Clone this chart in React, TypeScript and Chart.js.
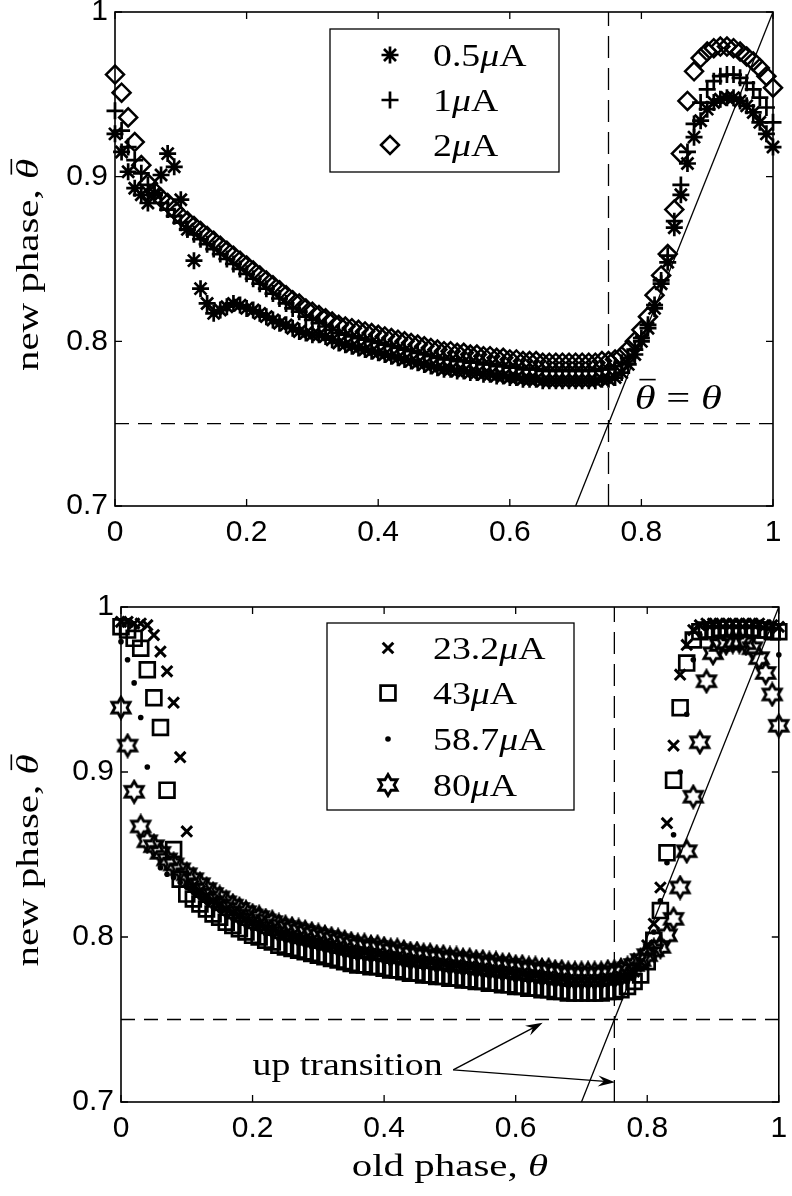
import React, { useEffect, useRef } from 'react';
import { Chart, registerables } from 'chart.js';
import { drawPoint } from 'chart.js/helpers';

Chart.register(...registerables);

// ---------------- data ----------------
const thetaGrid = [
  0.00, 0.01, 0.02, 0.03, 0.04, 0.05, 0.06, 0.07, 0.08, 0.09,
  0.10, 0.11, 0.12, 0.13, 0.14, 0.15, 0.16, 0.17, 0.18, 0.19,
  0.20, 0.21, 0.22, 0.23, 0.24, 0.25, 0.26, 0.27, 0.28, 0.29,
  0.30, 0.31, 0.32, 0.33, 0.34, 0.35, 0.36, 0.37, 0.38, 0.39,
  0.40, 0.41, 0.42, 0.43, 0.44, 0.45, 0.46, 0.47, 0.48, 0.49,
  0.50, 0.51, 0.52, 0.53, 0.54, 0.55, 0.56, 0.57, 0.58, 0.59,
  0.60, 0.61, 0.62, 0.63, 0.64, 0.65, 0.66, 0.67, 0.68, 0.69,
  0.70, 0.71, 0.72, 0.73, 0.74, 0.75, 0.76, 0.77, 0.78, 0.79,
  0.80, 0.81, 0.82, 0.83, 0.84, 0.85, 0.86, 0.87, 0.88, 0.89,
  0.90, 0.91, 0.92, 0.93, 0.94, 0.95, 0.96, 0.97, 0.98, 0.99,
  1.00,
];

// top panel: 0.5 uA (*), 1 uA (+), 2 uA (diamond)
const top05uA = [
  0.926, 0.915, 0.903, 0.893, 0.889, 0.884, 0.890, 0.901, 0.914, 0.906,
  0.886, 0.868, 0.849, 0.832, 0.823, 0.817, 0.819, 0.821, 0.823, 0.822,
  0.820, 0.819, 0.817, 0.815, 0.813, 0.811, 0.810, 0.808, 0.806, 0.805,
  0.804, 0.804, 0.803, 0.801, 0.799, 0.798, 0.797, 0.796, 0.795, 0.794,
  0.793, 0.792, 0.791, 0.790, 0.789, 0.788, 0.787, 0.786, 0.785, 0.784,
  0.783, 0.783, 0.782, 0.782, 0.781, 0.781, 0.780, 0.780, 0.779, 0.779,
  0.778, 0.778, 0.777, 0.777, 0.777, 0.776, 0.776, 0.776, 0.776, 0.776,
  0.776, 0.776, 0.776, 0.776, 0.777, 0.777, 0.778, 0.781, 0.786, 0.792,
  0.800, 0.808, 0.820, 0.835, 0.848, 0.869, 0.889, 0.908, 0.924, 0.934,
  0.941, 0.945, 0.947, 0.948, 0.948, 0.946, 0.943, 0.939, 0.933, 0.926,
  0.918,
];
const top1uA = [
  0.940, 0.928, 0.918, 0.910, 0.902, 0.895, 0.889, 0.884, 0.880, 0.876,
  0.872, 0.868, 0.865, 0.862, 0.859, 0.856, 0.853, 0.850, 0.847, 0.844,
  0.841, 0.838, 0.835, 0.832, 0.829, 0.826, 0.823, 0.820, 0.818, 0.815,
  0.813, 0.811, 0.809, 0.807, 0.805, 0.804, 0.803, 0.802, 0.801, 0.800,
  0.799, 0.798, 0.797, 0.796, 0.795, 0.794, 0.793, 0.792, 0.791, 0.790,
  0.789, 0.789, 0.788, 0.788, 0.787, 0.787, 0.786, 0.786, 0.785, 0.785,
  0.784, 0.784, 0.783, 0.783, 0.783, 0.782, 0.782, 0.782, 0.782, 0.782,
  0.782, 0.782, 0.782, 0.782, 0.783, 0.783, 0.785, 0.787, 0.790, 0.795,
  0.802, 0.810, 0.822, 0.837, 0.852, 0.873, 0.895, 0.915, 0.932, 0.945,
  0.953, 0.958, 0.961, 0.962, 0.962, 0.960, 0.957, 0.953, 0.948, 0.942,
  0.933,
];
const top2uA = [
  0.962, 0.951, 0.936, 0.921, 0.907, 0.896, 0.891, 0.887, 0.884, 0.880,
  0.876, 0.873, 0.870, 0.867, 0.864, 0.861, 0.858, 0.855, 0.852, 0.849,
  0.846, 0.843, 0.840, 0.837, 0.834, 0.831, 0.828, 0.825, 0.823, 0.820,
  0.818, 0.816, 0.814, 0.812, 0.810, 0.809, 0.808, 0.807, 0.806, 0.805,
  0.804, 0.803, 0.802, 0.801, 0.800, 0.799, 0.798, 0.797, 0.796, 0.795,
  0.794, 0.794, 0.793, 0.793, 0.792, 0.792, 0.791, 0.791, 0.790, 0.790,
  0.789, 0.789, 0.788, 0.788, 0.788, 0.787, 0.787, 0.787, 0.787, 0.787,
  0.787, 0.787, 0.787, 0.787, 0.788, 0.788, 0.789, 0.791, 0.795, 0.800,
  0.807, 0.815, 0.828, 0.840, 0.853, 0.880, 0.914, 0.946, 0.964, 0.972,
  0.976, 0.978, 0.979, 0.979, 0.978, 0.976, 0.973, 0.970, 0.966, 0.961,
  0.954,
];

// bottom panel: 23.2 uA (x), 43 uA (square), 58.7 uA (dot), 80 uA (hexagram)
const bot232uA = [
  0.991, 0.991, 0.990, 0.990, 0.989, 0.983, 0.973, 0.961, 0.942, 0.909,
  0.864, 0.831, 0.828, 0.825, 0.822, 0.820, 0.817, 0.815, 0.813, 0.811,
  0.809, 0.808, 0.806, 0.805, 0.803, 0.802, 0.801, 0.800, 0.799, 0.798,
  0.797, 0.796, 0.795, 0.794, 0.793, 0.792, 0.791, 0.791, 0.790, 0.790,
  0.789, 0.788, 0.788, 0.787, 0.786, 0.786, 0.785, 0.785, 0.784, 0.784,
  0.783, 0.783, 0.782, 0.782, 0.781, 0.781, 0.780, 0.780, 0.779, 0.779,
  0.778, 0.778, 0.777, 0.777, 0.776, 0.776, 0.775, 0.775, 0.774, 0.774,
  0.774, 0.774, 0.774, 0.774, 0.775, 0.775, 0.776, 0.777, 0.779, 0.785,
  0.795, 0.808, 0.830, 0.869, 0.916, 0.959, 0.977, 0.986, 0.989, 0.990,
  0.990, 0.990, 0.990, 0.990, 0.990, 0.990, 0.990, 0.990, 0.989, 0.989,
  0.988,
];
const bot43uA = [
  0.988, 0.986, 0.981, 0.975, 0.962, 0.945, 0.927, 0.889, 0.853, 0.835,
  0.826, 0.823, 0.820, 0.817, 0.814, 0.812, 0.809, 0.807, 0.805, 0.803,
  0.801, 0.800, 0.798, 0.797, 0.795, 0.794, 0.793, 0.792, 0.791, 0.790,
  0.789, 0.788, 0.787, 0.786, 0.785, 0.784, 0.783, 0.783, 0.782, 0.782,
  0.781, 0.780, 0.780, 0.779, 0.778, 0.778, 0.777, 0.777, 0.776, 0.776,
  0.775, 0.775, 0.774, 0.774, 0.773, 0.773, 0.772, 0.772, 0.771, 0.771,
  0.770, 0.770, 0.769, 0.769, 0.768, 0.768, 0.767, 0.767, 0.766, 0.766,
  0.766, 0.766, 0.766, 0.766, 0.767, 0.767, 0.768, 0.770, 0.773, 0.777,
  0.785, 0.798, 0.816, 0.851, 0.895, 0.939, 0.966, 0.980, 0.985, 0.986,
  0.986, 0.987, 0.987, 0.987, 0.987, 0.987, 0.987, 0.986, 0.986, 0.985,
  0.985,
];
const bot587uA = [
  0.979, 0.968, 0.954, 0.933, 0.903, null, 0.842, 0.838, 0.836, 0.833,
  0.830, 0.827, 0.824, 0.821, 0.818, 0.816, 0.813, 0.811, 0.809, 0.807,
  0.805, 0.804, 0.802, 0.801, 0.799, 0.798, 0.797, 0.796, 0.795, 0.794,
  0.793, 0.792, 0.791, 0.790, 0.789, 0.788, 0.787, 0.787, 0.786, 0.786,
  0.785, 0.784, 0.784, 0.783, 0.782, 0.782, 0.781, 0.781, 0.780, 0.780,
  0.779, 0.779, 0.778, 0.778, 0.777, 0.777, 0.776, 0.776, 0.775, 0.775,
  0.774, 0.774, 0.773, 0.773, 0.772, 0.772, 0.771, 0.771, 0.770, 0.770,
  0.770, 0.770, 0.770, 0.770, 0.771, 0.771, 0.772, 0.773, 0.776, 0.781,
  0.790, 0.803, 0.822, 0.845, 0.862, 0.900, 0.935, 0.968, 0.983, 0.987,
  0.988, 0.988, 0.988, 0.988, 0.988, 0.988, 0.988, 0.988, 0.987, 0.985,
  0.971,
];
const bot80uA = [
  0.939, 0.916, 0.888, 0.867, 0.858, 0.855, 0.851, 0.847, 0.844, 0.841,
  0.838, 0.835, 0.832, 0.829, 0.826, 0.824, 0.821, 0.819, 0.817, 0.815,
  0.813, 0.812, 0.810, 0.809, 0.807, 0.806, 0.805, 0.804, 0.803, 0.802,
  0.801, 0.800, 0.799, 0.798, 0.797, 0.796, 0.795, 0.795, 0.794, 0.794,
  0.793, 0.792, 0.792, 0.791, 0.790, 0.790, 0.789, 0.789, 0.788, 0.788,
  0.787, 0.787, 0.786, 0.786, 0.785, 0.785, 0.784, 0.784, 0.783, 0.783,
  0.782, 0.782, 0.781, 0.781, 0.780, 0.780, 0.779, 0.779, 0.778, 0.778,
  0.778, 0.778, 0.778, 0.778, 0.779, 0.779, 0.780, 0.781, 0.783, 0.786,
  0.789, 0.792, 0.794, 0.801, 0.811, 0.830, 0.852, 0.885, 0.918, 0.955,
  0.972, 0.977, 0.978, 0.979, 0.979, 0.978, 0.975, 0.969, 0.960, 0.947,
  0.928,
];

const xTicks = [0, 0.2, 0.4, 0.6, 0.8, 1];
const yTicks = [0.7, 0.8, 0.9, 1];
const xRange = [0, 1];
const yRange = [0.7, 1];
const criticalPhase = 0.75; // dashed reference lines
const identityLine = [0.7, 1]; // theta_bar = theta

const topLabels = ['0.5', '1', '2'];
const bottomLabels = ['23.2', '43', '58.7', '80'];

// ---------------- styling helpers ----------------
const SANS = '"Liberation Sans", Arial, Helvetica, sans-serif';
const SERIF = '"Liberation Serif", "Times New Roman", serif';
const TXT_SIZE = 31;
const TXT_SX = 1.22;

type Seg = { t: string; it?: boolean; over?: boolean };

function drawRich(ctx: CanvasRenderingContext2D, segs: Seg[], x: number, y: number, align: 'left' | 'center', size = TXT_SIZE, sx = TXT_SX) {
  ctx.save();
  ctx.translate(x, y);
  ctx.scale(sx, 1);
  ctx.fillStyle = '#000';
  ctx.strokeStyle = '#000';
  ctx.textBaseline = 'alphabetic';
  ctx.textAlign = 'left';
  const fontOf = (s: Seg) => `${s.it ? 'italic ' : ''}${size}px ${SERIF}`;
  const widths = segs.map((s) => {
    ctx.font = fontOf(s);
    return ctx.measureText(s.t).width;
  });
  const total = widths.reduce((a, b) => a + b, 0);
  let cx = align === 'center' ? -total / 2 : 0;
  segs.forEach((s, i) => {
    ctx.font = fontOf(s);
    ctx.fillText(s.t, cx, 0);
    if (s.over) {
      ctx.lineWidth = 1.6;
      ctx.beginPath();
      ctx.moveTo(cx + widths[i] * 0.22, -size * 0.86);
      ctx.lineTo(cx + widths[i] * 1.0, -size * 0.86);
      ctx.stroke();
    }
    cx += widths[i];
  });
  ctx.restore();
  return total * sx;
}

function drawArrow(ctx: CanvasRenderingContext2D, x1: number, y1: number, x2: number, y2: number) {
  const ang = Math.atan2(y2 - y1, x2 - x1);
  const L = 17;
  const W = 5.5;
  const dx = Math.cos(ang);
  const dy = Math.sin(ang);
  ctx.save();
  ctx.strokeStyle = '#000';
  ctx.fillStyle = '#000';
  ctx.lineWidth = 1.4;
  ctx.beginPath();
  ctx.moveTo(x1, y1);
  ctx.lineTo(x2 - dx * L * 0.6, y2 - dy * L * 0.6);
  ctx.stroke();
  ctx.beginPath();
  ctx.moveTo(x2, y2);
  ctx.lineTo(x2 - dx * L - dy * W, y2 - dy * L + dx * W);
  ctx.lineTo(x2 - dx * L * 0.65, y2 - dy * L * 0.65);
  ctx.lineTo(x2 - dx * L + dy * W, y2 - dy * L - dx * W);
  ctx.closePath();
  ctx.fill();
  ctx.restore();
}

function makeHexagram(): HTMLCanvasElement {
  const c = document.createElement('canvas');
  c.width = 26;
  c.height = 26;
  const g = c.getContext('2d')!;
  const R = 10.5;
  const r = R / Math.sqrt(3);
  g.beginPath();
  for (let k = 0; k < 12; k++) {
    const a = -Math.PI / 2 + (k * Math.PI) / 6;
    const rad = k % 2 === 0 ? R : r;
    const px = 13 + rad * Math.cos(a);
    const py = 13 + rad * Math.sin(a);
    if (k === 0) g.moveTo(px, py);
    else g.lineTo(px, py);
  }
  g.closePath();
  g.lineWidth = 2.8;
  g.strokeStyle = '#000';
  g.lineJoin = 'miter';
  g.stroke();
  return c;
}

type MarkerStyle = { pointStyle: any; radius: number; borderWidth: number; filled?: boolean };

function series(ys: (number | null)[]) {
  const out: { x: number; y: number }[] = [];
  ys.forEach((y, i) => {
    if (y !== null) out.push({ x: thetaGrid[i], y });
  });
  return out;
}

function markerDataset(label: string, ys: (number | null)[], m: MarkerStyle) {
  return {
    label,
    data: series(ys),
    showLine: false,
    pointStyle: m.pointStyle,
    pointRadius: m.radius,
    pointHoverRadius: m.radius,
    pointBorderWidth: m.borderWidth,
    pointBorderColor: '#000',
    pointBackgroundColor: m.filled ? '#000' : 'rgba(0,0,0,0)',
    clip: false as any,
  };
}

function refDatasets() {
  return [
    {
      label: 'h',
      data: [
        { x: xRange[0], y: criticalPhase },
        { x: xRange[1], y: criticalPhase },
      ],
      showLine: true,
      borderColor: '#000',
      borderWidth: 1.3,
      borderDash: [14, 9],
      pointRadius: 0,
    },
    {
      label: 'v',
      data: [
        { x: criticalPhase, y: yRange[0] },
        { x: criticalPhase, y: yRange[1] },
      ],
      showLine: true,
      borderColor: '#000',
      borderWidth: 1.3,
      borderDash: [22, 10],
      pointRadius: 0,
    },
    {
      label: 'd',
      data: [
        { x: identityLine[0], y: identityLine[0] },
        { x: identityLine[1], y: identityLine[1] },
      ],
      showLine: true,
      borderColor: '#000',
      borderWidth: 1.3,
      pointRadius: 0,
    },
  ];
}

type LegendSpec = {
  box: [number, number, number, number];
  markerX: number;
  labelX: number;
  rows: number[];
  entries: { m: MarkerStyle; value: string }[];
};

type PanelSpec = {
  legend: LegendSpec;
  extra?: (ctx: CanvasRenderingContext2D, chart: any) => void;
  xTitle?: boolean;
};

function overlayPlugin(spec: PanelSpec) {
  return {
    id: 'overlay',
    afterDraw(chart: any) {
      const ctx: CanvasRenderingContext2D = chart.ctx;
      const { left, right, top, bottom } = chart.chartArea;
      const xs = chart.scales.x;
      const ys = chart.scales.y;
      ctx.save();
      // frame
      ctx.strokeStyle = '#000';
      ctx.lineWidth = 1.6;
      ctx.strokeRect(left, top, right - left, bottom - top);
      // inward ticks
      ctx.lineWidth = 1.3;
      ctx.beginPath();
      xTicks.forEach((v) => {
        const px = xs.getPixelForValue(v);
        ctx.moveTo(px, bottom);
        ctx.lineTo(px, bottom - 7);
        ctx.moveTo(px, top);
        ctx.lineTo(px, top + 7);
      });
      yTicks.forEach((v) => {
        const py = ys.getPixelForValue(v);
        ctx.moveTo(left, py);
        ctx.lineTo(left + 7, py);
        ctx.moveTo(right, py);
        ctx.lineTo(right - 7, py);
      });
      ctx.stroke();

      // legend
      const lg = spec.legend;
      const [bx1, by1, bx2, by2] = lg.box;
      ctx.fillStyle = '#fff';
      ctx.fillRect(bx1, by1, bx2 - bx1, by2 - by1);
      ctx.lineWidth = 1.3;
      ctx.strokeStyle = '#000';
      ctx.strokeRect(bx1, by1, bx2 - bx1, by2 - by1);
      lg.entries.forEach((e, i) => {
        const y = lg.rows[i];
        ctx.save();
        ctx.strokeStyle = '#000';
        ctx.fillStyle = e.m.filled ? '#000' : 'rgba(0,0,0,0)';
        ctx.lineWidth = e.m.borderWidth;
        drawPoint(ctx, { pointStyle: e.m.pointStyle, radius: e.m.radius, rotation: 0, borderWidth: e.m.borderWidth } as any, lg.markerX, y);
        ctx.restore();
        drawRich(ctx, [{ t: e.value }, { t: 'μ', it: true }, { t: 'A' }], lg.labelX, y + 11, 'left');
      });

      // y title
      ctx.save();
      ctx.translate(38, (top + bottom) / 2 + 6);
      ctx.rotate(-Math.PI / 2);
      drawRich(ctx, [{ t: 'new phase, ' }, { t: 'θ', it: true, over: true }], 0, 0, 'center', 31, 1.32);
      ctx.restore();

      if (spec.xTitle) {
        drawRich(ctx, [{ t: 'old phase, ' }, { t: 'θ', it: true }], (left + right) / 2, bottom + 74, 'center', 31, 1.32);
      }
      if (spec.extra) spec.extra(ctx, chart);
      ctx.restore();
    },
  };
}

function makeConfig(datasets: any[], spec: PanelSpec, dims: { canvasH: number; left: number; right: number; top: number; bottom: number }) {
  return {
    type: 'scatter' as const,
    data: { datasets },
    options: {
      animation: false as const,
      responsive: false,
      devicePixelRatio: 1,
      events: [],
      layout: { padding: { left: 0, right: 792 - dims.right, top: dims.top, bottom: 0 } },
      plugins: { legend: { display: false }, tooltip: { enabled: false }, title: { display: false } },
      scales: {
        x: {
          type: 'linear' as const,
          min: xRange[0],
          max: xRange[1],
          grid: { display: false, drawTicks: false },
          border: { display: false },
          afterBuildTicks: (s: any) => {
            s.ticks = xTicks.map((v) => ({ value: v }));
          },
          afterFit: (s: any) => {
            s.height = dims.canvasH - dims.bottom;
            s.paddingLeft = 0;
            s.paddingRight = 0;
          },
          ticks: {
            color: '#000',
            font: { family: SANS, size: 30 },
            padding: 9,
            maxRotation: 0,
            autoSkip: false,
            callback: (v: any) => String(Math.round(Number(v) * 10) / 10),
          },
        },
        y: {
          type: 'linear' as const,
          min: yRange[0],
          max: yRange[1],
          grid: { display: false, drawTicks: false },
          border: { display: false },
          afterBuildTicks: (s: any) => {
            s.ticks = yTicks.map((v) => ({ value: v }));
          },
          afterFit: (s: any) => {
            s.width = dims.left;
            s.paddingTop = 0;
            s.paddingBottom = 0;
          },
          ticks: {
            color: '#000',
            font: { family: SANS, size: 30 },
            padding: 7,
            callback: (v: any) => String(Math.round(Number(v) * 10) / 10),
          },
        },
      },
    },
    plugins: [overlayPlugin(spec)],
  };
}

export default function App() {
  const topRef = useRef<HTMLCanvasElement>(null);
  const botRef = useRef<HTMLCanvasElement>(null);

  useEffect(() => {
    const hex = makeHexagram();
    const mStar: MarkerStyle = { pointStyle: 'star', radius: 8.5, borderWidth: 2.7 };
    const mPlus: MarkerStyle = { pointStyle: 'cross', radius: 8.5, borderWidth: 2.7 };
    const mDiamond: MarkerStyle = { pointStyle: 'rectRot', radius: 9, borderWidth: 2.5 };
    const mX: MarkerStyle = { pointStyle: 'crossRot', radius: 7.5, borderWidth: 3 };
    const mSquare: MarkerStyle = { pointStyle: 'rect', radius: 10.5, borderWidth: 2.7 };
    const mDot: MarkerStyle = { pointStyle: 'circle', radius: 2.8, borderWidth: 0, filled: true };
    const mHex: MarkerStyle = { pointStyle: hex, radius: 10, borderWidth: 2.8 };

    const topSpec: PanelSpec = {
      legend: {
        box: [330, 29, 559, 172],
        markerX: 390,
        labelX: 433,
        rows: [55, 100, 145],
        entries: [
          { m: mStar, value: topLabels[0] },
          { m: mPlus, value: topLabels[1] },
          { m: mDiamond, value: topLabels[2] },
        ],
      },
      extra: (ctx, chart) => {
        const xs = chart.scales.x;
        const ys = chart.scales.y;
        drawRich(
          ctx,
          [{ t: 'θ', it: true, over: true }, { t: ' = ' }, { t: 'θ', it: true }],
          xs.getPixelForValue(0.79),
          ys.getPixelForValue(0.759),
          'left',
          34,
          1.25
        );
      },
    };

    const botSpec: PanelSpec = {
      legend: {
        box: [327, 43, 574, 230],
        markerX: 388,
        labelX: 433,
        rows: [68, 113, 159, 205],
        entries: [
          { m: mX, value: bottomLabels[0] },
          { m: mSquare, value: bottomLabels[1] },
          { m: mDot, value: bottomLabels[2] },
          { m: mHex, value: bottomLabels[3] },
        ],
      },
      xTitle: true,
      extra: (ctx, chart) => {
        const xs = chart.scales.x;
        const ys = chart.scales.y;
        drawRich(ctx, [{ t: 'up transition' }], xs.getPixelForValue(0.2), ys.getPixelForValue(0.7165), 'left');
        const tx = xs.getPixelForValue(0.505);
        const ty = ys.getPixelForValue(0.7195);
        drawArrow(ctx, tx, ty, xs.getPixelForValue(0.641), ys.getPixelForValue(0.748));
        drawArrow(ctx, tx, ty, xs.getPixelForValue(0.751), ys.getPixelForValue(0.712));
      },
    };

    const topDatasets = [
      markerDataset('0.5μA', top05uA, mStar),
      markerDataset('1μA', top1uA, mPlus),
      markerDataset('2μA', top2uA, mDiamond),
      ...refDatasets(),
    ];
    const botDatasets = [
      markerDataset('23.2μA', bot232uA, mX),
      markerDataset('43μA', bot43uA, mSquare),
      markerDataset('58.7μA', bot587uA, mDot),
      markerDataset('80μA', bot80uA, mHex),
      ...refDatasets(),
    ];

    const c1 = new Chart(topRef.current!, makeConfig(topDatasets, topSpec, { canvasH: 580, left: 115, right: 773, top: 12, bottom: 506 }) as any);
    const c2 = new Chart(botRef.current!, makeConfig(botDatasets, botSpec, { canvasH: 616, left: 121, right: 779, top: 27, bottom: 522 }) as any);
    return () => {
      c1.destroy();
      c2.destroy();
    };
  }, []);

  return (
    <div style={{ position: 'absolute', left: 0, top: 0, width: 792, height: 1196, background: '#fff' }}>
      <canvas ref={topRef} width={792} height={580} style={{ position: 'absolute', left: 0, top: 0 }} />
      <canvas ref={botRef} width={792} height={616} style={{ position: 'absolute', left: 0, top: 580 }} />
    </div>
  );
}
